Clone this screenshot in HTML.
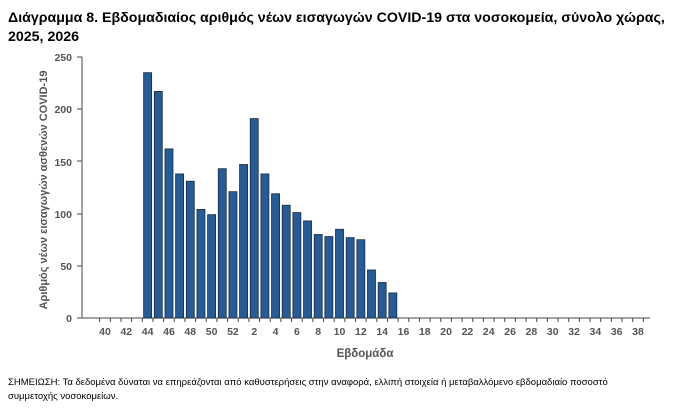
<!DOCTYPE html><html><head><meta charset="utf-8"><style>
body{margin:0;background:#fff;width:690px;height:403px;overflow:hidden;font-family:"Liberation Sans",sans-serif}
</style></head><body>
<svg width="690" height="403" xmlns="http://www.w3.org/2000/svg" font-family="Liberation Sans, sans-serif">
<text x="8" y="22" font-size="14.2" font-weight="bold" fill="#000">Διάγραμμα 8. Εβδομαδιαίος αριθμός νέων εισαγωγών COVID-19 στα νοσοκομεία, σύνολο χώρας,</text>
<text x="8" y="41" font-size="14.2" font-weight="bold" fill="#000">2025, 2026</text>
<g font-size="10.5" font-weight="bold" fill="#555" text-anchor="end">
<text x="72" y="322">0</text><text x="72" y="270">50</text><text x="72" y="218">100</text><text x="72" y="166">150</text><text x="72" y="113">200</text><text x="72" y="61">250</text>
</g>
<text transform="translate(47,190) rotate(-90)" font-size="11" font-weight="bold" fill="#555" text-anchor="middle">Αριθμός νέων εισαγωγών ασθενών COVID-19</text>
<g stroke="#444" stroke-width="1">
<line x1="82" y1="57" x2="82" y2="318"/><line x1="82" y1="318" x2="650" y2="318"/>
<line x1="77" y1="318" x2="82" y2="318"/><line x1="77" y1="266" x2="82" y2="266"/><line x1="77" y1="214" x2="82" y2="214"/><line x1="77" y1="161" x2="82" y2="161"/><line x1="77" y1="109" x2="82" y2="109"/><line x1="77" y1="57" x2="82" y2="57"/>
</g>
<g id="bars" fill="#255b96" stroke="#1a2a40" stroke-width="0.8"></g>
<g id="xt" stroke="#444"></g>
<g id="xl" font-size="10.5" font-weight="bold" fill="#555" text-anchor="middle"></g>
<text x="365" y="357" font-size="11.5" font-weight="bold" fill="#555" text-anchor="middle">Εβδομάδα</text>
<text x="8" y="385" font-size="9.5" fill="#000">ΣΗΜΕΙΩΣΗ: Τα δεδομένα δύναται να επηρεάζονται από καθυστερήσεις στην αναφορά, ελλιπή στοιχεία ή μεταβαλλόμενο εβδομαδιαίο ποσοστό</text>
<text x="8" y="399" font-size="9.5" fill="#000">συμμετοχής νοσοκομείων.</text>
</svg>
<script>
var vals=[235,217,162,138,131,104,99,143,121,147,191,138,119,108,101,93,80,78,85,77,75,46,34,24];
var ns="http://www.w3.org/2000/svg",b=document.getElementById('bars'),xt=document.getElementById('xt'),xl=document.getElementById('xl');
function cx(i){return 105+(i-1)*10.66;}
vals.forEach(function(v,k){var i=5+k;var h=v*261/250;var r=document.createElementNS(ns,'rect');
r.setAttribute('x',cx(i)-4);r.setAttribute('y',318-h);r.setAttribute('width',8);r.setAttribute('height',h);b.appendChild(r);});
for(var i=0;i<=53;i++){var x=cx(i)+5.33;if(x<=82||x>652)continue;var l=document.createElementNS(ns,'line');l.setAttribute('x1',x);l.setAttribute('x2',x);l.setAttribute('y1',318);l.setAttribute('y2',322);xt.appendChild(l);}
for(var i=1;i<=51;i+=2){var w=39+i;if(w>52)w-=52;var t=document.createElementNS(ns,'text');t.setAttribute('x',cx(i));t.setAttribute('y',335);t.textContent=w;xl.appendChild(t);}
</script>
</body></html>
